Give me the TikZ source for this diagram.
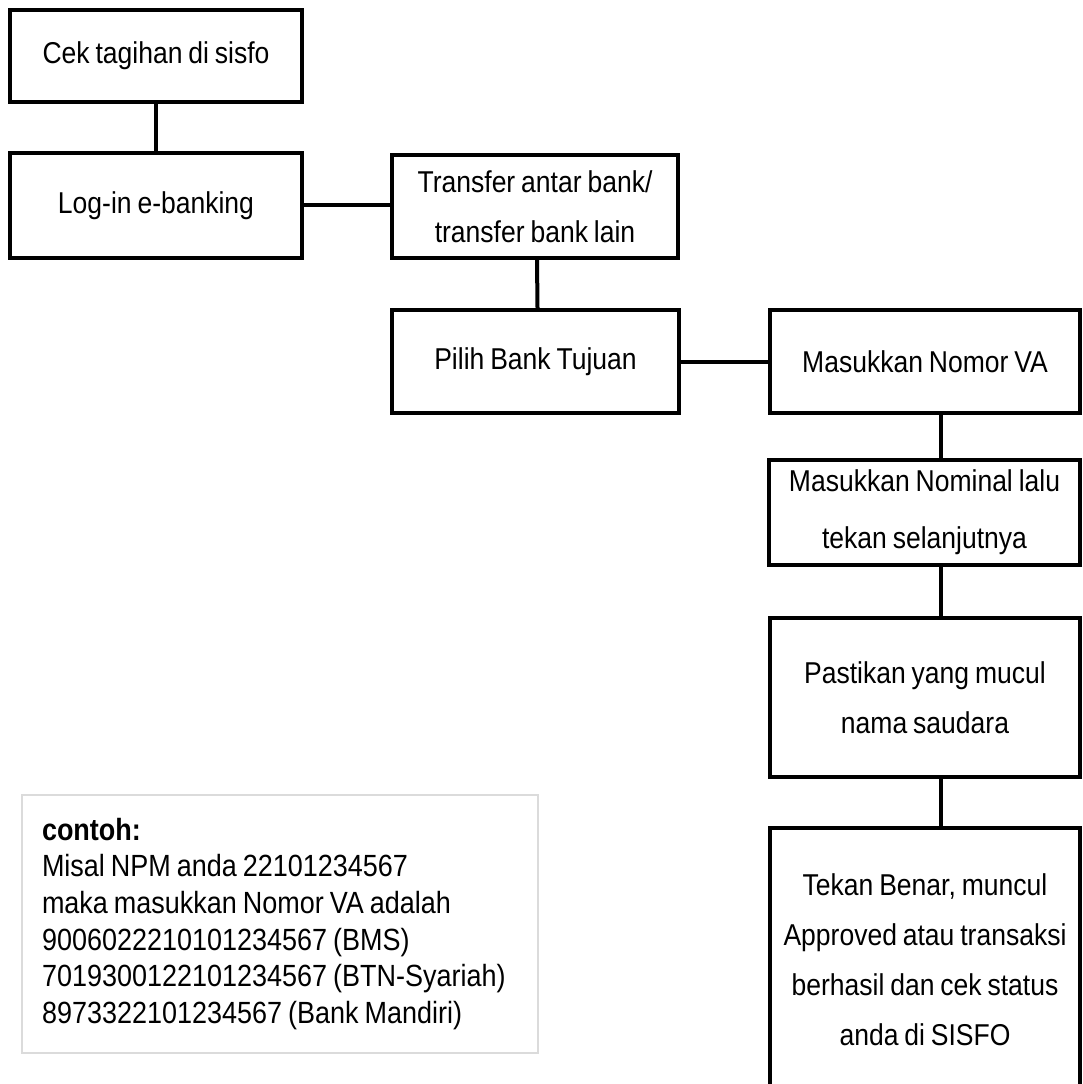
\documentclass[tikz,border=0pt]{standalone}
\usepackage{fontspec}
\setmainfont[FakeStretch=0.88,WordSpace=0.8]{Liberation Sans}
\usetikzlibrary{calc}
\begin{document}
\begin{tikzpicture}[x=0.75pt,y=-0.75pt,
  flowbox/.style={draw=black, line width=3pt, inner sep=0pt, align=center,
    font=\fontsize{22.6}{37.5}\selectfont},
  conn/.style={draw=black, line width=3pt},
  notebox/.style={draw=black!14, line width=1.5pt, inner xsep=15pt, inner ysep=0pt,
    align=flush left, text width=357pt, font=\fontsize{23}{27.5}\selectfont}]
\useasboundingbox (0,0) rectangle (1082,1084);
\clip (0,0) rectangle (1082,1084);

\node[flowbox, minimum width=219pt, minimum height=69pt] (b1) at (156,56) {Cek tagihan di sisfo};
\node[flowbox, minimum width=219pt, minimum height=78.75pt] (b2) at (156,205.5) {Log-in e-banking};
\node[flowbox, minimum width=214.5pt, minimum height=77.25pt] (b3) at (535,206.5) {Transfer antar bank/\\transfer bank lain};
\node[flowbox, minimum width=215.25pt, minimum height=77.25pt] (b4) at (535.5,361.5) {Pilih Bank Tujuan};
\node[flowbox, minimum width=232.5pt, minimum height=77.25pt] (b5) at (925,361.5) {Masukkan Nomor VA};
\node[flowbox, minimum width=233.25pt, minimum height=78.75pt, font=\fontsize{22.6}{43}\selectfont] (b6) at (924.5,512.5) {Masukkan Nominal lalu\\tekan selanjutnya};
\node[flowbox, minimum width=232.5pt, minimum height=119.25pt] (b7) at (925,697.5) {Pastikan yang mucul\\nama saudara};
\node[flowbox, minimum width=232.5pt, minimum height=198pt] (b8) at (925,960) {Tekan Benar, muncul\\Approved atau transaksi\\berhasil dan cek status\\anda di SISFO};

\node[notebox, minimum width=387pt, minimum height=193.5pt] (note) at (280,924) {\textbf{contoh:}\\
Misal NPM anda 22101234567\\
maka masukkan Nomor VA adalah\\
9006022210101234567 (BMS)\\
7019300122101234567 (BTN-Syariah)\\
8973322101234567 (Bank Mandiri)};

\coordinate (cx) at (941,0);
\path[conn] (b1.south) -- (b2.north);
\path[conn] (b2.east) -- (b2.east -| b3.west);
\path[conn] ($(b3.south)+(2,0)$) -- ($(b4.north)+(2,0)$);
\path[conn] (b4.east) -- (b4.east -| b5.west);
\path[conn] (b5.south -| cx) -- (b6.north -| cx);
\path[conn] (b6.south -| cx) -- (b7.north -| cx);
\path[conn] (b7.south -| cx) -- (b8.north -| cx);
\end{tikzpicture}
\end{document}
